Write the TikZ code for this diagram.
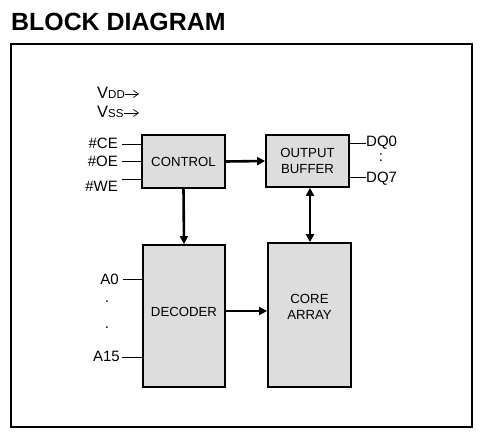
\documentclass[tikz,border=0pt]{standalone}
\usepackage{fontspec}
\setmainfont{Liberation Sans}
\usetikzlibrary{arrows.meta}
\definecolor{boxgray}{HTML}{DDDDDD}
\begin{document}
\begin{tikzpicture}[x=1pt,y=-1pt,
  blk/.style={draw=black,line width=1.8pt,fill=boxgray,inner sep=0pt},
  blbl/.style={align=center,inner sep=0pt,font=\fontsize{13.2}{16}\selectfont},
  bus/.style={line width=2.6pt,-{Triangle[length=8pt,width=8pt]}},
  bibus/.style={line width=2.6pt,{Triangle[length=8pt,width=8pt]}-{Triangle[length=8pt,width=8pt]}},
  sig/.style={line width=0.9pt},
  lbl/.style={font=\fontsize{15}{17}\selectfont,inner sep=0pt},
  pwr/.style={line width=0.7pt,-{Straight Barb[length=5pt,width=7pt]}}]
\useasboundingbox (0,0) rectangle (490,446);
\node[anchor=base west,inner sep=0pt,font=\fontsize{24.9}{28}\selectfont\bfseries] (title) at (11,31) {BLOCK DIAGRAM};
\draw[line width=1.6pt] (11,44) rectangle (472,427);
\node[blk,minimum width=83pt,minimum height=53pt] (ctrl) at (183.5,161.5) {};
\node[blbl] at (ctrl.center) {CONTROL};
\node[blk,minimum width=83pt,minimum height=52pt] (obuf) at (307.5,161) {};
\node[blbl] at (obuf.center) {OUTPUT\\BUFFER};
\node[blk,minimum width=82pt,minimum height=142pt] (dec) at (184,316) {};
\node[blbl] at (184,312) {DECODER};
\node[blk,minimum width=83pt,minimum height=144pt] (core) at (309.5,315) {};
\node[blbl] at (309.5,307) {CORE\\ARRAY};
% power
\node[anchor=base west,inner sep=0pt] (vdd) at (97,99) {\fontsize{16.5}{18}\selectfont V\fontsize{11.5}{13}\selectfont DD};
\node[anchor=base west,inner sep=0pt] (vss) at (97,118) {\fontsize{16.5}{18}\selectfont V\fontsize{11.5}{13}\selectfont SS};
\coordinate (vddE) at (139,94);
\coordinate (vssE) at (139,113);
\draw[pwr] (vdd.east |- vddE) -- (vddE);
\draw[pwr] (vss.east |- vssE) -- (vssE);
% control inputs
\coordinate (ce) at (122,144);
\coordinate (oe) at (122,161);
\coordinate (we) at (122,179);
\draw[sig] (ce) -- (ce -| ctrl.west);
\draw[sig] (oe) -- (oe -| ctrl.west);
\draw[sig] (we) -- (we -| ctrl.west);
\node[lbl,anchor=east] (lce) at (118,143) {\#CE};
\node[lbl,anchor=east] (loe) at (118,161) {\#OE};
\node[lbl,anchor=east] (lwe) at (118,186) {\#WE};
% address inputs
\coordinate (a0) at (123,279);
\coordinate (a15) at (122,357);
\draw[sig] (a0) -- (a0 -| dec.west);
\draw[sig] (a15) -- (a15 -| dec.west);
\node[lbl,anchor=east] (la0) at (119,279) {A0};
\node[lbl,anchor=east] (la15) at (120,356) {A15};
\node[lbl] (ad1) at (107,302) {.};
\node[lbl] (ad2) at (107,328) {.};
% outputs
\coordinate (dq0) at (366,143);
\coordinate (dq7) at (366,177);
\draw[sig] (obuf.east |- dq0) -- (dq0);
\draw[sig] (obuf.east |- dq7) -- (dq7);
\node[lbl,anchor=west] (ldq0) at (366,143) {DQ0};
\node[lbl,anchor=west] (ldq7) at (366,179) {DQ7};
\node[lbl] (dqd) at (381,158) {:};
% buses
\draw[bus] (ctrl.east) -- (obuf.west);
\draw[bus] (ctrl.south) -- (dec.north);
\draw[bus] (dec.east |- 0,311) -- (core.west |- 0,311);
\draw[bibus] (obuf.south -| 310,0) -- (core.north -| 310,0);
\end{tikzpicture}
\end{document}
